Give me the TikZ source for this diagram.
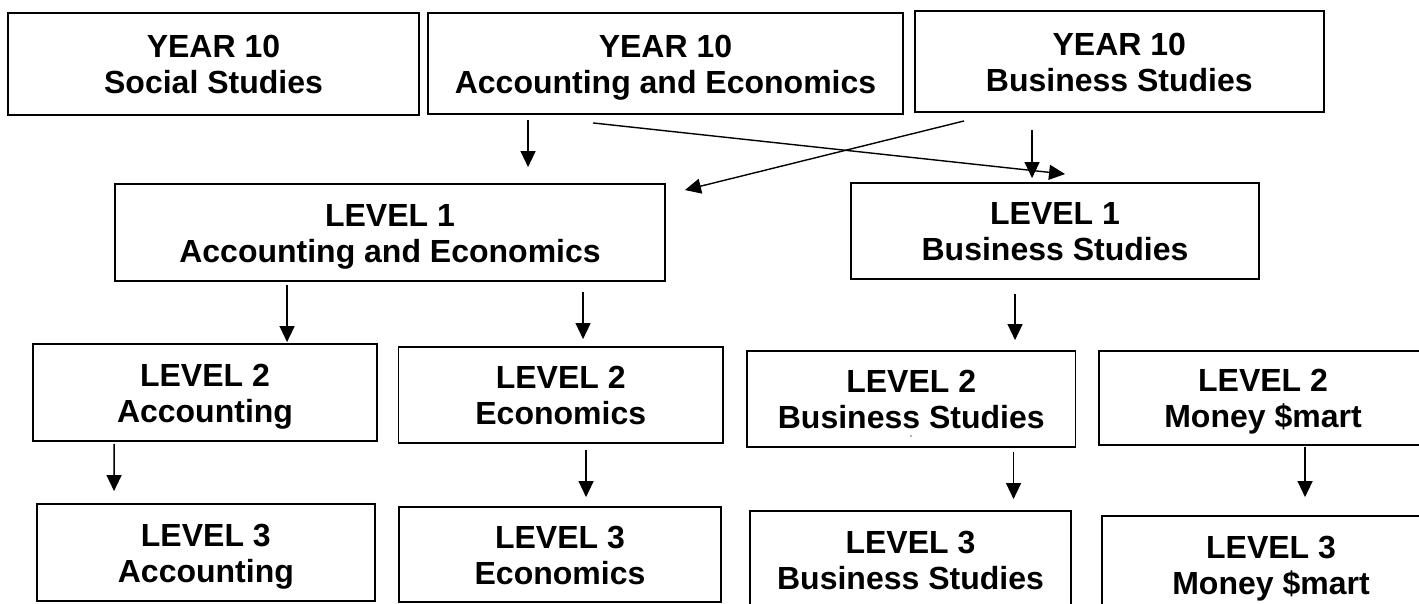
\documentclass[tikz,border=0pt]{standalone}
\usepackage{fontspec}
\setmainfont{Liberation Sans}
\usetikzlibrary{arrows.meta,calc}
\newcommand\twolines[2]{\raisebox{0pt}[59pt][0pt]{\begin{tabular}[b]{@{}c@{}}#1\\#2\end{tabular}}}
\begin{document}
\begin{tikzpicture}[x=1pt,y=-1pt,
  boxstyle/.style={draw=black,line width=1.9pt,inner sep=0pt,
    font=\bfseries\fontsize{32}{36}\selectfont,fill=white},
  arr/.style={line width=1.4pt,-{Triangle[length=16pt,width=15pt]}}]
\useasboundingbox (0,0) rectangle (1419,603);
\clip (0,0) rectangle (1419,603);
\fill[white] (0,0) rectangle (1419,603);
% top row
\node[boxstyle,minimum width=411pt,minimum height=102pt] (A) at (213.5,64) {\twolines{YEAR 10}{Social Studies}};
\node[boxstyle,minimum width=475pt,minimum height=101pt] (B) at (665.5,63.5) {\twolines{YEAR 10}{Accounting and Economics}};
\node[boxstyle,minimum width=408.6pt,minimum height=101pt] (C) at (1119.3,61.5) {\twolines{YEAR 10}{Business Studies}};
% level 1
\node[boxstyle,minimum width=550pt,minimum height=97pt] (D) at (390,232.5) {\twolines{LEVEL 1}{Accounting and Economics}};
\node[boxstyle,minimum width=408pt,minimum height=96pt] (E) at (1055,231) {\twolines{LEVEL 1}{Business Studies}};
% level 2
\node[boxstyle,minimum width=344pt,minimum height=97pt] (F) at (205,392.5) {\twolines{LEVEL 2}{Accounting}};
\node[boxstyle,minimum width=324.5pt,minimum height=96pt] (G) at (560.75,395) {\twolines{LEVEL 2}{Economics}};
\node[boxstyle,minimum width=328.5pt,minimum height=96pt] (H) at (911.25,399) {\twolines{LEVEL 2}{Business Studies}};
\node[boxstyle,minimum width=328pt,minimum height=94pt] (I) at (1263,398) {\twolines{LEVEL 2}{Money \$mart}};
% level 3
\node[boxstyle,minimum width=338.3pt,minimum height=97pt] (F3) at (205.85,552.5) {\twolines{LEVEL 3}{Accounting}};
\node[boxstyle,minimum width=322pt,minimum height=95pt] (G3) at (560,554.5) {\twolines{LEVEL 3}{Economics}};
\node[boxstyle,minimum width=321pt,minimum height=97pt] (H3) at (910.5,559.5) {\twolines{LEVEL 3}{Business Studies}};
\node[boxstyle,minimum width=338pt,minimum height=97pt] (I3) at (1271,564.5) {\twolines{LEVEL 3}{Money \$mart}};
% small speck
\fill[black!60] (911,436) circle (0.8pt);
% connectors
\draw[arr] ($(B.south west)+(101,5)$) -- ($(D.north west)+(414,-16)$);
\draw[arr] ($(B.south west)+(166,8)$) -- ($(E.north west)+(215,-8)$);
\draw[arr] ($(C.south west)+(50,8)$) -- ($(D.north east)+(19,7)$);
\draw[arr] ($(C.south west)+(118,17)$) -- ($(E.north west)+(182,-4)$);
\draw[arr] ($(D.south west)+(173,3)$) -- ($(F.north west)+(255,-1)$);
\draw[arr] ($(D.south west)+(469,10)$) -- ($(G.north west)+(185.5,-7)$);
\draw[arr] ($(E.south west)+(165,14)$) -- ($(H.north west)+(269,-10)$);
\draw[arr] ($(F.south west)+(82,2)$) -- ($(F3.north west)+(78.3,-12)$);
\draw[arr] ($(G.south west)+(188.5,6)$) -- ($(G3.north west)+(188,-9)$);
\draw[arr] ($(H.south west)+(267.5,4)$) -- ($(H3.north west)+(264.5,-11)$);
\draw[arr] ($(I.south west)+(207,1)$) -- ($(I3.north west)+(204,-18)$);
\end{tikzpicture}
\end{document}
